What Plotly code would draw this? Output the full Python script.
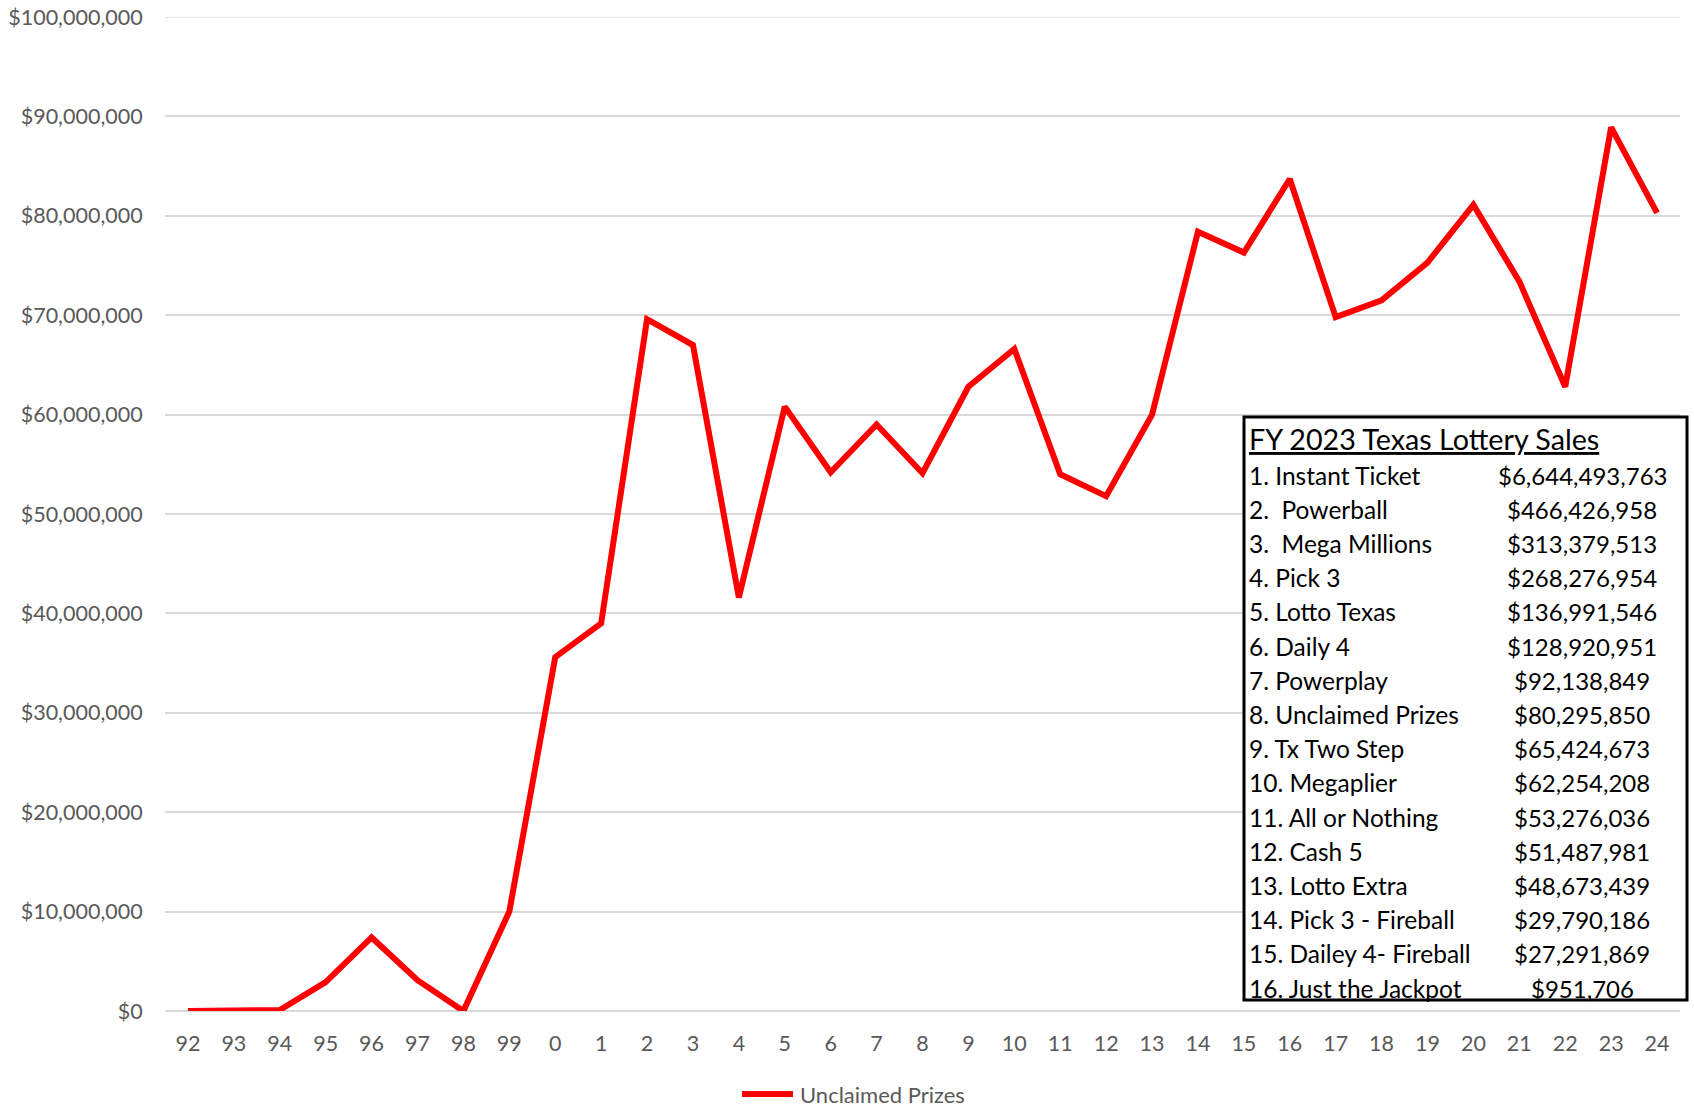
import plotly.graph_objects as go

# ---- data ----
years = ["92", "93", "94", "95", "96", "97", "98", "99", "0", "1", "2", "3", "4", "5", "6", "7",
         "8", "9", "10", "11", "12", "13", "14", "15", "16", "17", "18", "19", "20", "21", "22", "23", "24"]
unclaimed_millions = [0.0, 0.0, 0.1, 2.9, 7.4, 3.1, 0.0, 10.0, 35.6, 39.0, 69.6, 67.0, 41.6, 60.8, 54.2, 59.0,
                      54.1, 62.8, 66.6, 54.0, 51.8, 60.0, 78.4, 76.3, 83.7, 69.8, 71.5, 75.3, 81.1, 73.4, 62.8, 88.9, 80.3]
series_name = "Unclaimed Prizes"

table_title = "FY 2023 Texas Lottery Sales"
game_labels = ["1. Instant Ticket", "2.  Powerball", "3.  Mega Millions", "4. Pick 3", "5. Lotto Texas",
               "6. Daily 4", "7. Powerplay", "8. Unclaimed Prizes", "9. Tx Two Step", "10. Megaplier",
               "11. All or Nothing", "12. Cash 5", "13. Lotto Extra", "14. Pick 3 - Fireball",
               "15. Dailey 4- Fireball", "16. Just the Jackpot"]
game_sales = ["$6,644,493,763", "$466,426,958", "$313,379,513", "$268,276,954", "$136,991,546",
              "$128,920,951", "$92,138,849", "$80,295,850", "$65,424,673", "$62,254,208",
              "$53,276,036", "$51,487,981", "$48,673,439", "$29,790,186", "$27,291,869", "$951,706"]

# ---- layout geometry (page pixels; body margin removed via post_script) ----
W, H = 1694, 1109
PLOT_L, PLOT_R, PLOT_T, PLOT_B = 165, 1680, 17, 1011
L, T = PLOT_L, PLOT_T
R = W - PLOT_R
B = H - PLOT_B
PW = PLOT_R - PLOT_L
PH = PLOT_B - PLOT_T

def px(x):
    return (x - PLOT_L) / PW

def py(y):
    return (PLOT_B - y) / PH

FONT = "Lato, 'Open Sans', sans-serif"
GRAY = "#595959"
GRID = "#D9D9D9"
Y_MAX = 100_000_000

values = [v * 1_000_000 for v in unclaimed_millions]

fig = go.Figure()
fig.add_trace(go.Scatter(
    x=years, y=values, mode="lines", name=series_name, showlegend=False,
    line=dict(color="#FF0000", width=6), cliponaxis=False, hoverinfo="skip",
))

fig.update_layout(
    width=W, height=H,
    margin=dict(l=L, r=R, t=T, b=B, autoexpand=False),
    paper_bgcolor="white", plot_bgcolor="white",
    font=dict(family=FONT, color=GRAY, size=21.5),
    showlegend=False,
    xaxis=dict(type="category", range=[-0.5, len(years) - 0.5], showgrid=False, showline=False,
               zeroline=False, ticks="outside", ticklen=13, tickcolor="rgba(0,0,0,0)", automargin=False,
               tickfont=dict(family=FONT, size=21.5, color=GRAY)),
    yaxis=dict(range=[0, Y_MAX], dtick=10_000_000, tickformat="$,.0f",
               showgrid=True, gridcolor=GRID, gridwidth=1.5,
               zeroline=True, zerolinecolor=GRID, zerolinewidth=1.5, showline=False,
               ticks="outside", ticklen=17, tickcolor="rgba(0,0,0,0)", automargin=False,
               ticklabeloverflow="allow",
               tickfont=dict(family=FONT, size=21.5, color=GRAY)),
)

# top gridline (plotly drops the gridline at the range edge)
fig.add_shape(type="line", xref="paper", yref="y", x0=0, x1=1, y0=Y_MAX, y1=Y_MAX,
              line=dict(color=GRID, width=1.5), layer="below")

# ---- legend (drawn manually so the sample line matches) ----
fig.add_shape(type="line", xref="paper", yref="paper", x0=px(742), x1=px(793), y0=py(1094), y1=py(1094),
              line=dict(color="#FF0000", width=6))
fig.add_annotation(xref="paper", yref="paper", x=px(798), y=py(1094), xanchor="left", yanchor="middle",
                   text=series_name, showarrow=False, font=dict(family=FONT, size=22, color=GRAY))

# ---- table box ----
box_l, box_r, box_t, box_b = 1244, 1687, 417, 1000
fig.add_shape(type="rect", xref="paper", yref="paper",
              x0=px(box_l), x1=px(box_r), y0=py(box_b), y1=py(box_t),
              line=dict(color="black", width=3), fillcolor="white", layer="above")

fig.add_annotation(xref="paper", yref="paper", x=px(1247), y=py(439), xanchor="left", yanchor="middle",
                   text="<u>" + table_title + "</u>", showarrow=False,
                   font=dict(family=FONT, size=28.7, color="black"))

row0, row_step = 475, 34.2
for k, (lab, val) in enumerate(zip(game_labels, game_sales)):
    yy = py(row0 + k * row_step)
    fig.add_annotation(xref="paper", yref="paper", x=px(1247), y=yy, xanchor="left", yanchor="middle",
                       text=lab.replace("  ", "&nbsp; "), showarrow=False,
                       font=dict(family=FONT, size=24.5, color="black"))
    fig.add_annotation(xref="paper", yref="paper", x=px(1582), y=yy, xanchor="center", yanchor="middle",
                       text=val, showarrow=False,
                       font=dict(family=FONT, size=24, color="black"))

fig.write_html("out.html",
               config={"displayModeBar": False},
               post_script="document.body.style.margin='0';document.body.style.overflow='hidden';")
